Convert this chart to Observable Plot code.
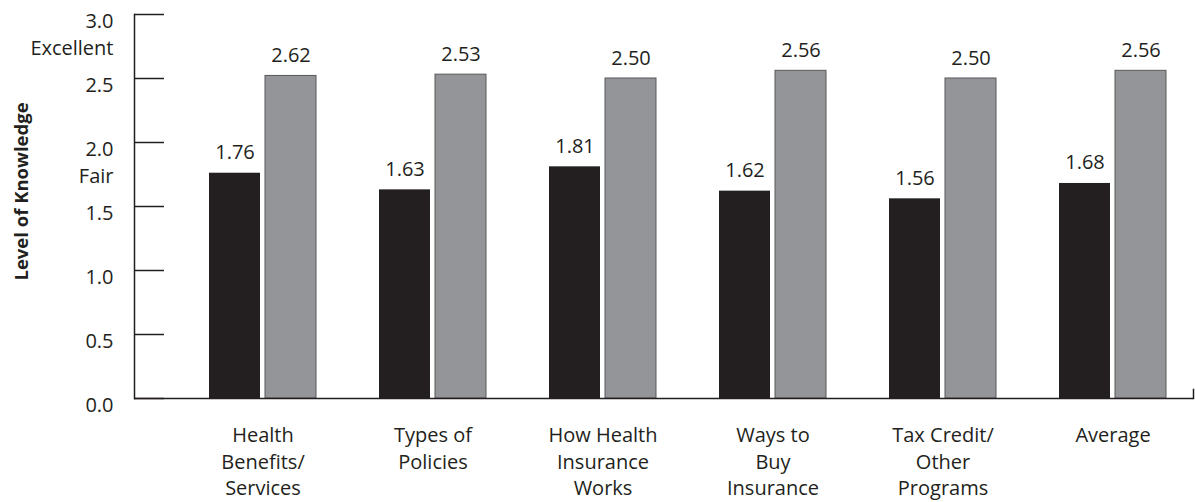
<!DOCTYPE html>
<html><head><meta charset="utf-8">
<script src="https://cdn.jsdelivr.net/npm/d3@7"></script>
<script src="https://cdn.jsdelivr.net/npm/@observablehq/plot@0.6"></script>
<style>html,body{margin:0;padding:0;background:#fff}</style>
</head><body><div id="chart"></div>
<script>
// Categories (x axis labels, with line breaks as in the reference)
const categories = [
  "Health\nBenefits/\nServices",
  "Types of\nPolicies",
  "How Health\nInsurance\nWorks",
  "Ways to\nBuy\nInsurance",
  "Tax Credit/\nOther\nPrograms",
  "Average"
];
// Dark series: bar heights and printed labels
const darkValues = [1.76, 1.63, 1.81, 1.62, 1.56, 1.68];
const darkLabels = ["1.76", "1.63", "1.81", "1.62", "1.56", "1.68"];
// Gray series: bar heights as drawn, and printed labels
const grayValues = [2.52, 2.53, 2.50, 2.56, 2.50, 2.56];
const grayLabels = ["2.62", "2.53", "2.50", "2.56", "2.50", "2.56"];
// Y axis ticks and their labels (with qualitative names)
const yTicks = [0, 0.5, 1.0, 1.5, 2.0, 2.5, 3.0];
const yTickLabels = ["0.0", "0.5", "1.0", "1.5", "2.0\nFair", "2.5", "3.0\nExcellent"];
const yTitle = "Level of Knowledge";

const ink = "#231f20";
const dark = categories.map((c, i) => ({category: c, value: darkValues[i], label: darkLabels[i]}));
const gray = categories.map((c, i) => ({category: c, value: grayValues[i], label: grayLabels[i]}));
const labelOf = d => yTickLabels[yTicks.indexOf(d)];
const plainTicks = yTicks.filter(d => !labelOf(d).includes("\n"));
const qualTicks = yTicks.filter(d => labelOf(d).includes("\n"));

const W = 1195, H = 502, mL = 134, mR = 2, mT = 14, mB = 104;
const frameW = W - mL - mR;

const chart = Plot.plot({
  width: W, height: H,
  marginTop: mT, marginBottom: mB, marginLeft: mL, marginRight: mR,
  style: {fontFamily: "'Open Sans', sans-serif", fontSize: "20px", color: ink, background: "#fff"},
  x: {domain: categories, paddingInner: 0.369, paddingOuter: 0.2845, align: 0.742, label: null},
  y: {domain: [0, 3], label: null},
  marks: [
    Plot.barY(dark, {x: "category", y: "value", fill: ink, insetRight: 56}),
    Plot.barY(gray, {x: "category", y: "value", fill: "#939598", stroke: "#58585a", strokeWidth: 1, insetLeft: 56}),
    Plot.text(dark, {x: "category", y: "value", text: "label", dx: -28, dy: -14, lineAnchor: "bottom", fontSize: 20, fill: ink}),
    Plot.text(gray, {x: "category", y: "value", text: "label", dx: 28, dy: -14, lineAnchor: "bottom", fontSize: 20, fill: ink}),
    Plot.tickY(yTicks, {y: d => d, insetRight: frameW - 30, stroke: ink, strokeWidth: 1.5}),
    Plot.frame({anchor: "left", stroke: ink, strokeWidth: 1.5}),
    Plot.ruleY([0], {stroke: ink, strokeWidth: 1.5}),
    Plot.frame({anchor: "right", insetTop: (H - mB - mT) - 9, stroke: ink, strokeWidth: 1.5}),
    Plot.axisY(plainTicks, {tickSize: 0, tickPadding: 21, tickFormat: labelOf, lineAnchor: "top", dy: -1, fontSize: 20, fill: ink, label: null}),
    Plot.axisY(qualTicks, {tickSize: 0, tickPadding: 21, tickFormat: labelOf, lineAnchor: "top", lineHeight: 1.37, dy: -6, fontSize: 20, fill: ink, label: null}),
    Plot.axisX({tickSize: 0, tickPadding: 25, lineHeight: 1.32, fontSize: 20, fill: ink, label: null}),
    Plot.text([yTitle], {frameAnchor: "left", dx: 27 - mL, dy: -15, rotate: -90, lineAnchor: "bottom", textAnchor: "middle", fontSize: 18.5, fontWeight: "bold", fill: ink})
  ]
});
document.getElementById("chart").appendChild(chart);
</script>
</body></html>
